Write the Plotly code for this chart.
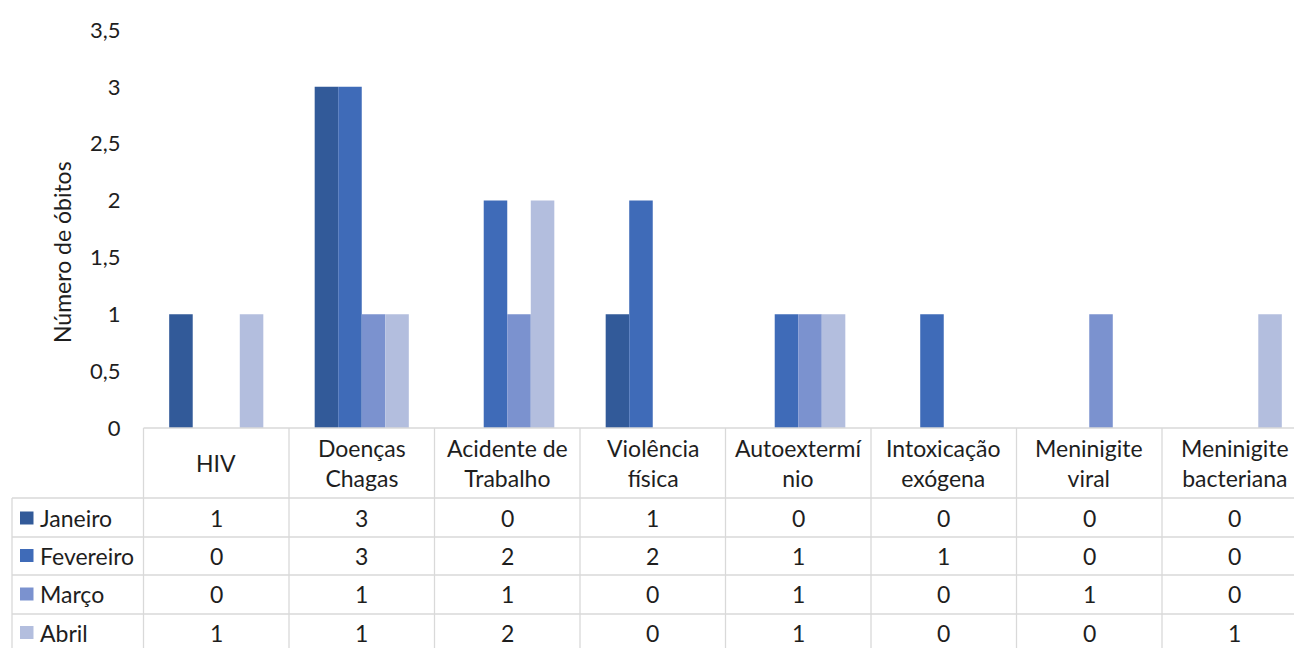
import plotly.graph_objects as go

# ---- data ----
categories = ["HIV", "Doenças<br>Chagas", "Acidente de<br>Trabalho", "Violência<br>física",
              "Autoextermí<br>nio", "Intoxicação<br>exógena", "Meninigite<br>viral", "Meninigite<br>bacteriana"]
months = ["Janeiro", "Fevereiro", "Março", "Abril"]
janeiro = [1, 3, 0, 1, 0, 0, 0, 0]
fevereiro = [0, 3, 2, 2, 1, 1, 0, 0]
marco = [0, 1, 1, 0, 1, 0, 1, 0]
abril = [1, 1, 2, 0, 1, 0, 0, 1]
series = [janeiro, fevereiro, marco, abril]
y_ticks = [0, 0.5, 1, 1.5, 2, 2.5, 3, 3.5]
y_title = "Número de óbitos"

# ---- style ----
colors = ["#325A99", "#3F6BB8", "#7B92CF", "#B3BEDE"]
W, H = 1294, 648
FONT = "Lato"
TXT = "#1E1E1E"
GRID = "#D9D9D9"
FS = 23
FS_TICK = 22


def px(x):
    return x / W


def py(y):
    return 1 - y / H


plot_left = 143.5
plot_bottom = 428
plot_top = 30
col_w = 145.5
x_max = 7.5 - (plot_left + 8 * col_w - W) / col_w

fig = go.Figure()
xs = list(range(len(categories)))
for name, vals, c in zip(months, series, colors):
    fig.add_trace(go.Bar(x=xs, y=vals, name=name, marker=dict(color=c, line=dict(width=0)),
                         hoverinfo="y+name"))

shapes = []
annotations = []

# table top border (x axis line)
shapes.append(dict(type="line", xref="paper", yref="paper", x0=px(plot_left), x1=1,
                   y0=py(plot_bottom), y1=py(plot_bottom), line=dict(color=GRID, width=1.3)))
# row lines
row_lines = [498, 537, 575, 614]
for yl in row_lines:
    shapes.append(dict(type="line", xref="paper", yref="paper", x0=px(12), x1=1,
                       y0=py(yl), y1=py(yl), line=dict(color=GRID, width=1.3)))
# left border of legend column
shapes.append(dict(type="line", xref="paper", yref="paper", x0=px(12), x1=px(12),
                   y0=py(row_lines[0]), y1=0, line=dict(color=GRID, width=1.3)))
shapes.append(dict(type="line", xref="paper", yref="paper", x0=px(plot_left), x1=px(plot_left),
                   y0=py(plot_bottom), y1=0, line=dict(color=GRID, width=1.3)))
# column borders
for k in range(1, len(categories)):
    shapes.append(dict(type="line", xref="x", yref="paper", x0=k - 0.5, x1=k - 0.5,
                       y0=py(plot_bottom), y1=0, line=dict(color=GRID, width=1.3)))

# header labels
for i, cat in enumerate(categories):
    annotations.append(dict(x=i, y=py(463), xref="x", yref="paper", text=cat, showarrow=False,
                            font=dict(family=FONT, size=FS, color=TXT), xanchor="center",
                            yanchor="middle", align="center"))

row_centers = [518, 555.5, 594, 632.5]
for r, (name, vals, c) in enumerate(zip(months, series, colors)):
    yc = row_centers[r]
    shapes.append(dict(type="rect", xref="paper", yref="paper", x0=px(20), x1=px(33.5),
                       y0=py(yc + 6.5), y1=py(yc - 6.5), fillcolor=c, line=dict(width=0)))
    annotations.append(dict(x=px(38), y=py(yc), xref="paper", yref="paper", text=name,
                            showarrow=False, xanchor="left", yanchor="middle",
                            font=dict(family=FONT, size=FS, color=TXT)))
    for i, v in enumerate(vals):
        annotations.append(dict(x=i, y=py(yc), xref="x", yref="paper", text=str(v),
                                showarrow=False, xanchor="center", yanchor="middle",
                                font=dict(family=FONT, size=FS, color=TXT)))

# y axis title
annotations.append(dict(x=px(62), y=py(252), xref="paper", yref="paper", text=y_title,
                        showarrow=False, textangle=-90, xanchor="center", yanchor="middle",
                        font=dict(family=FONT, size=FS, color=TXT)))

fig.update_layout(
    width=W, height=H,
    margin=dict(l=0, r=0, t=0, b=0, pad=0),
    paper_bgcolor="white", plot_bgcolor="white",
    barmode="group", bargap=0.353, bargroupgap=0,
    showlegend=False,
    separators=",.",
    font=dict(family=FONT, size=FS, color=TXT),
    xaxis=dict(domain=[px(plot_left), 1], range=[-0.5, x_max], showticklabels=False,
               showgrid=False, zeroline=False, showline=False, ticks="", fixedrange=True,
               automargin=False),
    yaxis=dict(domain=[py(plot_bottom), py(plot_top)], range=[0, 3.5], tickvals=y_ticks,
               showgrid=False, zeroline=False, showline=False, ticks="",
               ticklabelstandoff=22, automargin=False,
               tickfont=dict(family=FONT, size=FS_TICK, color=TXT), fixedrange=True),
    shapes=shapes,
    annotations=annotations,
)

fig.write_html("out.html", config={"displayModeBar": False},
               post_script="document.body.style.margin='0';document.body.style.overflow='hidden';")
